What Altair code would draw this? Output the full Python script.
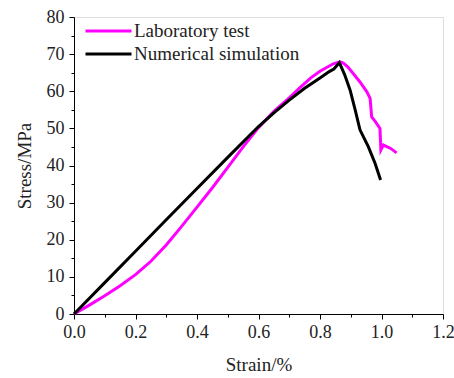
import altair as alt
import pandas as pd

lab_strain = [0, 0.05, 0.1, 0.15, 0.2, 0.25, 0.3, 0.35, 0.4, 0.45, 0.5, 0.55, 0.6, 0.65, 0.7,
              0.735, 0.77, 0.8, 0.843, 0.865, 0.876, 0.89, 0.908, 0.93, 0.952, 0.963, 0.968,
              0.98, 0.995, 0.998, 1.006, 1.03, 1.049]
lab_stress = [0, 2.4, 4.9, 7.6, 10.6, 14.2, 18.6, 23.6, 28.8, 34.0, 39.5, 45.0, 50.2, 54.6,
              58.2, 61.0, 63.6, 65.4, 67.4, 67.9, 67.6, 66.6, 64.8, 62.5, 59.9, 58.1, 53.1,
              51.8, 50.0, 44.2, 45.5, 44.6, 43.4]
sim_strain = [0, 0.1, 0.2, 0.3, 0.4, 0.5, 0.6, 0.65, 0.7, 0.75, 0.8, 0.83, 0.845, 0.863,
              0.88, 0.898, 0.915, 0.93, 0.957, 0.979, 0.997]
sim_stress = [0, 8.45, 16.9, 25.4, 33.8, 42.2, 50.5, 54.2, 57.6, 60.8, 63.6, 65.3, 66.0, 67.7,
              64.5, 60.3, 54.8, 49.6, 45.1, 40.6, 36.1]

series = ["Laboratory test", "Numerical simulation"]
colors = ["#ff00ff", "#000000"]

rows = []
for i, (s, v) in enumerate(zip(lab_strain, lab_stress)):
    rows.append({"strain": s, "stress": v, "series": series[0], "idx": i})
for i, (s, v) in enumerate(zip(sim_strain, sim_stress)):
    rows.append({"strain": s, "stress": v, "series": series[1], "idx": i})
df = pd.DataFrame(rows)

x_major = [0, 0.2, 0.4, 0.6, 0.8, 1.0, 1.2]
x_minor = [0.1, 0.3, 0.5, 0.7, 0.9, 1.1]
y_major = [0, 10, 20, 30, 40, 50, 60, 70, 80]
y_minor = [5, 15, 25, 35, 45, 55, 65, 75]

FONT = "'Liberation Serif', 'Times New Roman', Times, serif"
xscale = alt.Scale(domain=[0, 1.2], nice=False, zero=False)
yscale = alt.Scale(domain=[0, 80], nice=False)

common_axis = dict(domainColor="black", tickColor="black", labelColor="#222",
                   labelFont=FONT, labelFontSize=18, titleFont=FONT, titleFontSize=19,
                   titleFontWeight="normal", titleColor="#222", grid=False, domainWidth=1,
                   tickWidth=1, labelFlush=False, labelOverlap=False)

lines = alt.Chart(df).mark_line(strokeWidth=3).encode(
    x=alt.X("strain:Q", scale=xscale,
            axis=alt.Axis(values=x_major, format=".1f", tickSize=5, labelPadding=4,
                          title="Strain/%", titlePadding=14, orient="bottom", **common_axis)),
    y=alt.Y("stress:Q", scale=yscale,
            axis=alt.Axis(values=y_major, format="d", tickSize=5, labelPadding=5,
                          title="Stress/MPa", titlePadding=12, orient="left", **common_axis)),
    color=alt.Color("series:N", scale=alt.Scale(domain=series, range=colors),
                    legend=alt.Legend(title=None, orient="none", legendX=10, legendY=1,
                                      symbolType="M-1,0H3", symbolSize=529,
                                      symbolStrokeWidth=3, labelFont=FONT,
                                      labelFontSize=19, labelColor="#222", rowPadding=0,
                                      labelOffset=24, padding=0, labelLimit=0)),
    order="idx:Q",
)

minor = alt.Chart(df).mark_point(opacity=0).encode(
    x=alt.X("strain:Q", scale=xscale,
            axis=alt.Axis(values=x_minor, labels=False, domain=False, tickSize=3,
                          tickColor="black", title=None, orient="bottom", grid=False)),
    y=alt.Y("stress:Q", scale=yscale,
            axis=alt.Axis(values=y_minor, labels=False, domain=False, tickSize=3,
                          tickColor="black", title=None, orient="left", grid=False)),
)

chart = alt.layer(lines, minor).resolve_axis(x="independent", y="independent").properties(
    width=369, height=297,
    autosize=alt.AutoSizeParams(type="none"),
    padding={"left": 74, "top": 17, "right": 11, "bottom": 64},
).configure_view(stroke=None).configure(background="white")

chart.save("out.html", embed_options={"renderer": "svg", "actions": False})
